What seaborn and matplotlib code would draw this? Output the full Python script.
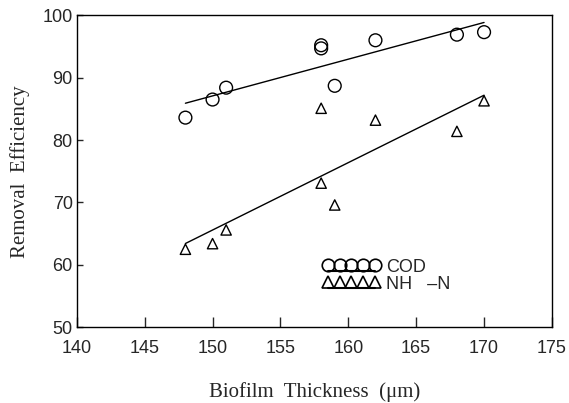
import numpy as np
import pandas as pd
import matplotlib
matplotlib.use("Agg")
import matplotlib.pyplot as plt
import seaborn as sns
from matplotlib.legend_handler import HandlerLine2DCompound
from matplotlib.lines import Line2D

# Data
thickness = [148, 150, 151, 158, 158, 159, 162, 168, 170]
cod = [83.6, 86.5, 88.4, 95.2, 94.7, 88.7, 96.0, 96.9, 97.3]
nh4n = [62.5, 63.4, 65.6, 85.1, 73.1, 69.6, 83.2, 81.4, 86.3]
series_labels = ["COD", "NH   \u2013N"]
x_ticks = [140, 145, 150, 155, 160, 165, 170, 175]
y_ticks = [50, 60, 70, 80, 90, 100]

df = pd.DataFrame({"thickness": thickness, "cod": cod, "nh": nh4n})

sns.set_style("ticks")
plt.rcParams["font.family"] = ["Liberation Sans", "DejaVu Sans"]

fig = plt.figure(figsize=(5.69, 4.03), dpi=100)
ax = fig.add_axes([0.135, 0.188, 0.835, 0.774])

# scatter points
sns.scatterplot(data=df, x="thickness", y="cod", marker="o", s=85,
                facecolors="none", edgecolor="black", linewidth=1.0, ax=ax)
sns.scatterplot(data=df, x="thickness", y="nh", marker="^", s=55,
                facecolors="none", edgecolor="black", linewidth=1.0, ax=ax)
# regression lines
sns.regplot(data=df, x="thickness", y="cod", scatter=False, ci=None,
            truncate=True, color="black", line_kws={"linewidth": 1.0}, ax=ax)
sns.regplot(data=df, x="thickness", y="nh", scatter=False, ci=None,
            truncate=True, color="black", line_kws={"linewidth": 1.0}, ax=ax)

ax.set_xlim(140, 175)
ax.set_ylim(50, 100)
ax.set_xticks(x_ticks)
ax.set_yticks(y_ticks)
ax.tick_params(axis="x", direction="in", length=7, width=1, labelsize=13, pad=9)
ax.tick_params(axis="y", direction="in", length=4, width=1, labelsize=13, pad=3)
for s in ax.spines.values():
    s.set_visible(True)
    s.set_linewidth(1.0)
    s.set_color("black")

ax.set_xlabel("Biofilm  Thickness  (\u03bcm)", family=["Liberation Serif", "DejaVu Serif"],
              fontsize=15, labelpad=18)
ax.set_ylabel("Removal  Efficiency", family=["Liberation Serif", "DejaVu Serif"],
              fontsize=15, labelpad=9)


class MarkRowHandler(HandlerLine2DCompound):
    def create_artists(self, legend, orig_handle, xdescent, ydescent,
                       width, height, fontsize, trans):
        arts = super().create_artists(legend, orig_handle, xdescent, ydescent,
                                      width, height, fontsize, trans)
        line = arts[0]
        line.set_ydata(np.asarray(line.get_ydata()) - 0.42 * height)
        return arts


h1 = Line2D([], [], color="black", marker="o", markersize=9, markerfacecolor="none",
            markeredgecolor="black", markeredgewidth=1.2, linewidth=1.5)
h2 = Line2D([], [], color="black", marker="^", markersize=8, markerfacecolor="none",
            markeredgecolor="black", markeredgewidth=1.2, linewidth=1.5)
ax.legend([h1, h2], series_labels, loc="upper left", bbox_to_anchor=(0.502, 0.243),
          frameon=False, numpoints=5, handlelength=3.2, handletextpad=0.3,
          labelspacing=0.0, borderaxespad=0, fontsize=13,
          handler_map={Line2D: MarkRowHandler()})

fig.savefig("out.png", dpi=100)
